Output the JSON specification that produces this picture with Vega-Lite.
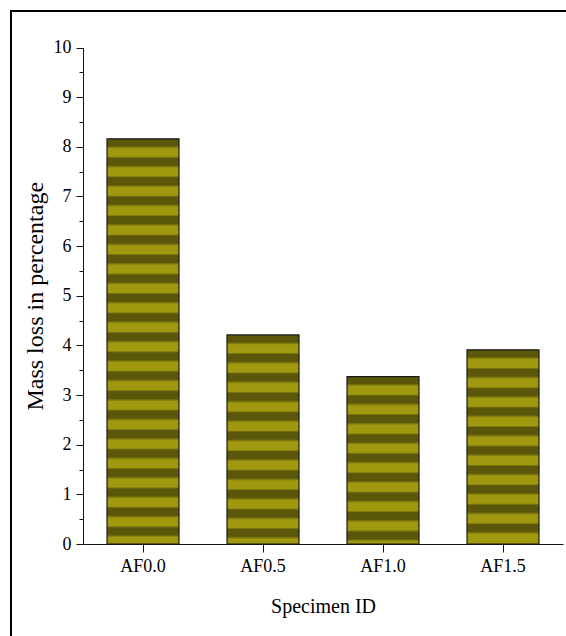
{
  "$schema": "https://vega.github.io/schema/vega-lite/v6.json",
  "width": 555,
  "height": 625,
  "autosize": {"type": "none"},
  "padding": {"left": 11, "top": 11, "right": 0, "bottom": 0},
  "background": "white",
  "config": {
    "view": {"stroke": "black", "strokeWidth": 2, "strokeDash": [555, 1180, 625]},
    "axis": {
      "labelFont": "Liberation Serif",
      "titleFont": "Liberation Serif",
      "labelColor": "black",
      "titleColor": "black",
      "titleFontWeight": "normal",
      "domainColor": "#111",
      "tickColor": "#111",
      "grid": false
    }
  },
  "data": {
    "values": [
      {"Specimen": "AF0.0", "MassLoss": 8.16},
      {"Specimen": "AF0.5", "MassLoss": 4.21},
      {"Specimen": "AF1.0", "MassLoss": 3.37},
      {"Specimen": "AF1.5", "MassLoss": 3.91}
    ]
  },
  "encoding": {
    "x": {
      "field": "Specimen", "type": "nominal", "sort": null,
      "scale": {"domain": ["AF0.0", "AF0.5", "AF1.0", "AF1.5"], "range": [72, 552], "paddingInner": 0.4, "paddingOuter": 0.2},
      "axis": {"title": "Specimen ID", "orient": "bottom", "offset": -92, "labelAngle": 0, "tickSize": 8, "labelPadding": 5, "titlePadding": 21, "labelFontSize": 18, "titleFontSize": 20}
    },
    "y": {
      "field": "MassLoss", "type": "quantitative",
      "scale": {"domain": [0, 10], "range": [533, 36.5], "nice": false},
      "axis": {
        "title": "Mass loss in percentage", "orient": "left", "offset": -72,
        "values": [0, 0.5, 1, 1.5, 2, 2.5, 3, 3.5, 4, 4.5, 5, 5.5, 6, 6.5, 7, 7.5, 8, 8.5, 9, 9.5, 10],
        "labelExpr": "datum.value % 1 === 0 ? format(datum.value, 'd') : ''",
        "tickSize": {"condition": {"test": "datum.value % 1 === 0", "value": 7}, "value": 4},
        "labelPadding": 5, "titlePadding": 6,
        "labelFontSize": 18, "titleFontSize": 24
      }
    }
  },
  "layer": [
    {
      "transform": [{"filter": "datum.Specimen === 'AF0.0'"}],
      "mark": {"type": "bar", "stroke": "#1a1a1a", "strokeWidth": 1.2, "fill": {"gradient": "linear", "x1": 0, "y1": 0, "x2": 0, "y2": 1, "stops": [
        {"offset": 0, "color": "#5a570b"}, {"offset": 0.017, "color": "#5a570b"}, {"offset": 0.024, "color": "#a0990f"}, {"offset": 0.043, "color": "#a0990f"},
        {"offset": 0.048, "color": "#5a570b"}, {"offset": 0.065, "color": "#5a570b"}, {"offset": 0.072, "color": "#a0990f"}, {"offset": 0.091, "color": "#a0990f"},
        {"offset": 0.096, "color": "#5a570b"}, {"offset": 0.113, "color": "#5a570b"}, {"offset": 0.120, "color": "#a0990f"}, {"offset": 0.139, "color": "#a0990f"},
        {"offset": 0.144, "color": "#5a570b"}, {"offset": 0.161, "color": "#5a570b"}, {"offset": 0.168, "color": "#a0990f"}, {"offset": 0.187, "color": "#a0990f"},
        {"offset": 0.192, "color": "#5a570b"}, {"offset": 0.209, "color": "#5a570b"}, {"offset": 0.216, "color": "#a0990f"}, {"offset": 0.235, "color": "#a0990f"},
        {"offset": 0.240, "color": "#5a570b"}, {"offset": 0.257, "color": "#5a570b"}, {"offset": 0.264, "color": "#a0990f"}, {"offset": 0.283, "color": "#a0990f"},
        {"offset": 0.288, "color": "#5a570b"}, {"offset": 0.305, "color": "#5a570b"}, {"offset": 0.312, "color": "#a0990f"}, {"offset": 0.331, "color": "#a0990f"},
        {"offset": 0.336, "color": "#5a570b"}, {"offset": 0.353, "color": "#5a570b"}, {"offset": 0.360, "color": "#a0990f"}, {"offset": 0.379, "color": "#a0990f"},
        {"offset": 0.384, "color": "#5a570b"}, {"offset": 0.401, "color": "#5a570b"}, {"offset": 0.408, "color": "#a0990f"}, {"offset": 0.427, "color": "#a0990f"},
        {"offset": 0.432, "color": "#5a570b"}, {"offset": 0.449, "color": "#5a570b"}, {"offset": 0.456, "color": "#a0990f"}, {"offset": 0.475, "color": "#a0990f"},
        {"offset": 0.480, "color": "#5a570b"}, {"offset": 0.497, "color": "#5a570b"}, {"offset": 0.504, "color": "#a0990f"}, {"offset": 0.523, "color": "#a0990f"},
        {"offset": 0.528, "color": "#5a570b"}, {"offset": 0.545, "color": "#5a570b"}, {"offset": 0.552, "color": "#a0990f"}, {"offset": 0.571, "color": "#a0990f"},
        {"offset": 0.576, "color": "#5a570b"}, {"offset": 0.593, "color": "#5a570b"}, {"offset": 0.600, "color": "#a0990f"}, {"offset": 0.619, "color": "#a0990f"},
        {"offset": 0.624, "color": "#5a570b"}, {"offset": 0.641, "color": "#5a570b"}, {"offset": 0.648, "color": "#a0990f"}, {"offset": 0.667, "color": "#a0990f"},
        {"offset": 0.672, "color": "#5a570b"}, {"offset": 0.689, "color": "#5a570b"}, {"offset": 0.696, "color": "#a0990f"}, {"offset": 0.715, "color": "#a0990f"},
        {"offset": 0.720, "color": "#5a570b"}, {"offset": 0.737, "color": "#5a570b"}, {"offset": 0.744, "color": "#a0990f"}, {"offset": 0.763, "color": "#a0990f"},
        {"offset": 0.768, "color": "#5a570b"}, {"offset": 0.785, "color": "#5a570b"}, {"offset": 0.792, "color": "#a0990f"}, {"offset": 0.811, "color": "#a0990f"},
        {"offset": 0.816, "color": "#5a570b"}, {"offset": 0.833, "color": "#5a570b"}, {"offset": 0.840, "color": "#a0990f"}, {"offset": 0.859, "color": "#a0990f"},
        {"offset": 0.864, "color": "#5a570b"}, {"offset": 0.881, "color": "#5a570b"}, {"offset": 0.888, "color": "#a0990f"}, {"offset": 0.907, "color": "#a0990f"},
        {"offset": 0.912, "color": "#5a570b"}, {"offset": 0.929, "color": "#5a570b"}, {"offset": 0.936, "color": "#a0990f"}, {"offset": 0.955, "color": "#a0990f"},
        {"offset": 0.960, "color": "#5a570b"}, {"offset": 0.977, "color": "#5a570b"}, {"offset": 0.984, "color": "#a0990f"}, {"offset": 1, "color": "#a0990f"}
      ]}}
    },
    {
      "transform": [{"filter": "datum.Specimen === 'AF0.5'"}],
      "mark": {"type": "bar", "stroke": "#1a1a1a", "strokeWidth": 1.2, "fill": {"gradient": "linear", "x1": 0, "y1": 0, "x2": 0, "y2": 1, "stops": [
        {"offset": 0, "color": "#5a570b"}, {"offset": 0.033, "color": "#5a570b"}, {"offset": 0.047, "color": "#a0990f"}, {"offset": 0.084, "color": "#a0990f"},
        {"offset": 0.093, "color": "#5a570b"}, {"offset": 0.126, "color": "#5a570b"}, {"offset": 0.140, "color": "#a0990f"}, {"offset": 0.177, "color": "#a0990f"},
        {"offset": 0.186, "color": "#5a570b"}, {"offset": 0.219, "color": "#5a570b"}, {"offset": 0.233, "color": "#a0990f"}, {"offset": 0.270, "color": "#a0990f"},
        {"offset": 0.279, "color": "#5a570b"}, {"offset": 0.312, "color": "#5a570b"}, {"offset": 0.326, "color": "#a0990f"}, {"offset": 0.363, "color": "#a0990f"},
        {"offset": 0.372, "color": "#5a570b"}, {"offset": 0.405, "color": "#5a570b"}, {"offset": 0.419, "color": "#a0990f"}, {"offset": 0.456, "color": "#a0990f"},
        {"offset": 0.465, "color": "#5a570b"}, {"offset": 0.498, "color": "#5a570b"}, {"offset": 0.512, "color": "#a0990f"}, {"offset": 0.549, "color": "#a0990f"},
        {"offset": 0.558, "color": "#5a570b"}, {"offset": 0.591, "color": "#5a570b"}, {"offset": 0.605, "color": "#a0990f"}, {"offset": 0.642, "color": "#a0990f"},
        {"offset": 0.651, "color": "#5a570b"}, {"offset": 0.684, "color": "#5a570b"}, {"offset": 0.698, "color": "#a0990f"}, {"offset": 0.735, "color": "#a0990f"},
        {"offset": 0.744, "color": "#5a570b"}, {"offset": 0.777, "color": "#5a570b"}, {"offset": 0.791, "color": "#a0990f"}, {"offset": 0.828, "color": "#a0990f"},
        {"offset": 0.837, "color": "#5a570b"}, {"offset": 0.870, "color": "#5a570b"}, {"offset": 0.884, "color": "#a0990f"}, {"offset": 0.921, "color": "#a0990f"},
        {"offset": 0.930, "color": "#5a570b"}, {"offset": 0.963, "color": "#5a570b"}, {"offset": 0.977, "color": "#a0990f"}, {"offset": 1, "color": "#a0990f"}
      ]}}
    },
    {
      "transform": [{"filter": "datum.Specimen === 'AF1.0'"}],
      "mark": {"type": "bar", "stroke": "#1a1a1a", "strokeWidth": 1.2, "fill": {"gradient": "linear", "x1": 0, "y1": 0, "x2": 0, "y2": 1, "stops": [
        {"offset": 0, "color": "#5a570b"}, {"offset": 0.041, "color": "#5a570b"}, {"offset": 0.058, "color": "#a0990f"}, {"offset": 0.104, "color": "#a0990f"},
        {"offset": 0.116, "color": "#5a570b"}, {"offset": 0.157, "color": "#5a570b"}, {"offset": 0.174, "color": "#a0990f"}, {"offset": 0.220, "color": "#a0990f"},
        {"offset": 0.232, "color": "#5a570b"}, {"offset": 0.273, "color": "#5a570b"}, {"offset": 0.290, "color": "#a0990f"}, {"offset": 0.336, "color": "#a0990f"},
        {"offset": 0.348, "color": "#5a570b"}, {"offset": 0.389, "color": "#5a570b"}, {"offset": 0.406, "color": "#a0990f"}, {"offset": 0.452, "color": "#a0990f"},
        {"offset": 0.464, "color": "#5a570b"}, {"offset": 0.505, "color": "#5a570b"}, {"offset": 0.522, "color": "#a0990f"}, {"offset": 0.568, "color": "#a0990f"},
        {"offset": 0.580, "color": "#5a570b"}, {"offset": 0.621, "color": "#5a570b"}, {"offset": 0.638, "color": "#a0990f"}, {"offset": 0.684, "color": "#a0990f"},
        {"offset": 0.696, "color": "#5a570b"}, {"offset": 0.737, "color": "#5a570b"}, {"offset": 0.754, "color": "#a0990f"}, {"offset": 0.800, "color": "#a0990f"},
        {"offset": 0.812, "color": "#5a570b"}, {"offset": 0.853, "color": "#5a570b"}, {"offset": 0.870, "color": "#a0990f"}, {"offset": 0.916, "color": "#a0990f"},
        {"offset": 0.928, "color": "#5a570b"}, {"offset": 0.969, "color": "#5a570b"}, {"offset": 0.986, "color": "#a0990f"}, {"offset": 1, "color": "#a0990f"}
      ]}}
    },
    {
      "transform": [{"filter": "datum.Specimen === 'AF1.5'"}],
      "mark": {"type": "bar", "stroke": "#1a1a1a", "strokeWidth": 1.2, "fill": {"gradient": "linear", "x1": 0, "y1": 0, "x2": 0, "y2": 1, "stops": [
        {"offset": 0, "color": "#5a570b"}, {"offset": 0.035, "color": "#5a570b"}, {"offset": 0.05, "color": "#a0990f"}, {"offset": 0.09, "color": "#a0990f"},
        {"offset": 0.1, "color": "#5a570b"}, {"offset": 0.135, "color": "#5a570b"}, {"offset": 0.15, "color": "#a0990f"}, {"offset": 0.19, "color": "#a0990f"},
        {"offset": 0.2, "color": "#5a570b"}, {"offset": 0.235, "color": "#5a570b"}, {"offset": 0.25, "color": "#a0990f"}, {"offset": 0.29, "color": "#a0990f"},
        {"offset": 0.3, "color": "#5a570b"}, {"offset": 0.335, "color": "#5a570b"}, {"offset": 0.35, "color": "#a0990f"}, {"offset": 0.39, "color": "#a0990f"},
        {"offset": 0.4, "color": "#5a570b"}, {"offset": 0.435, "color": "#5a570b"}, {"offset": 0.45, "color": "#a0990f"}, {"offset": 0.49, "color": "#a0990f"},
        {"offset": 0.5, "color": "#5a570b"}, {"offset": 0.535, "color": "#5a570b"}, {"offset": 0.55, "color": "#a0990f"}, {"offset": 0.59, "color": "#a0990f"},
        {"offset": 0.6, "color": "#5a570b"}, {"offset": 0.635, "color": "#5a570b"}, {"offset": 0.65, "color": "#a0990f"}, {"offset": 0.69, "color": "#a0990f"},
        {"offset": 0.7, "color": "#5a570b"}, {"offset": 0.735, "color": "#5a570b"}, {"offset": 0.75, "color": "#a0990f"}, {"offset": 0.79, "color": "#a0990f"},
        {"offset": 0.8, "color": "#5a570b"}, {"offset": 0.835, "color": "#5a570b"}, {"offset": 0.85, "color": "#a0990f"}, {"offset": 0.89, "color": "#a0990f"},
        {"offset": 0.9, "color": "#5a570b"}, {"offset": 0.935, "color": "#5a570b"}, {"offset": 0.95, "color": "#a0990f"}, {"offset": 1, "color": "#a0990f"}
      ]}}
    }
  ]
}
